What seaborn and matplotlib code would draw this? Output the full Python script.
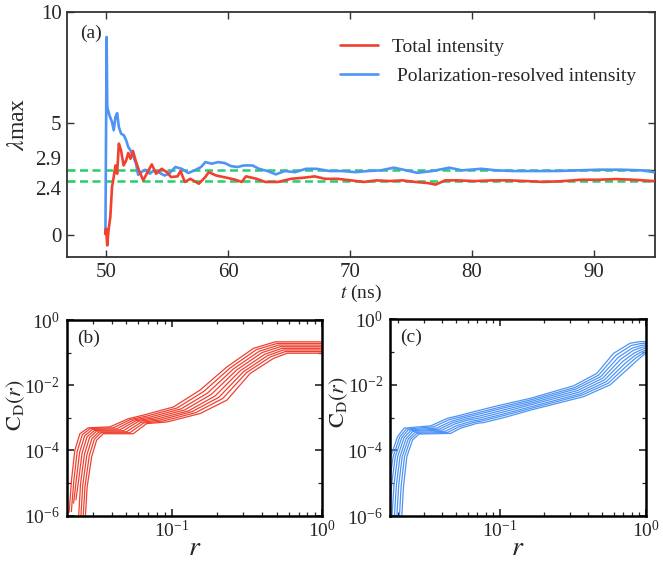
import numpy as np
import pandas as pd
import matplotlib
matplotlib.use("Agg")
import matplotlib.pyplot as plt
import seaborn as sns
from matplotlib import ticker

# ---------------- data: panel (a) ----------------
t_total = [49.92, 50.00, 50.10, 50.20, 50.35, 50.49, 50.63, 50.77, 50.91, 51.05,
           51.23, 51.44, 51.65, 51.82, 52.00, 52.21, 52.42, 52.70, 53.05, 53.40,
           53.75, 54.10, 54.56, 54.98, 55.33, 55.86, 56.10, 56.46, 56.91, 57.61,
           58.14, 58.42, 59.02, 59.89, 60.60, 61.12, 61.47, 62.35, 63.05, 64.10,
           65.16, 66.21, 67.09, 67.96, 69.02, 70.07, 71.12, 72.18, 73.23, 74.28,
           75.33, 76.39, 77.02, 77.79, 78.84, 80.25, 81.65, 83.05, 84.46, 85.86,
           87.26, 89.00, 90.42, 91.82, 93.20, 94.90]
lam_total = [0.04, 0.27, -0.48, 0.19, 0.79, 2.14, 2.59, 3.11, 2.74, 4.09,
             3.79, 3.11, 3.34, 3.67, 3.41, 3.76, 3.34, 2.89, 2.44, 2.81,
             3.16, 2.74, 2.96, 2.81, 2.59, 2.62, 2.86, 2.37, 2.51, 2.29,
             2.59, 2.81, 2.66, 2.56, 2.47, 2.37, 2.62, 2.51, 2.37, 2.37,
             2.51, 2.56, 2.62, 2.51, 2.51, 2.44, 2.37, 2.44, 2.41, 2.44,
             2.37, 2.32, 2.25, 2.44, 2.44, 2.41, 2.44, 2.44, 2.41, 2.37,
             2.40, 2.47, 2.47, 2.50, 2.47, 2.41]

t_pol = [49.95, 50.05, 50.10, 50.28, 50.49, 50.63, 50.77, 50.91, 51.05, 51.23,
         51.47, 51.65, 51.82, 52.00, 52.25, 52.46, 52.63, 52.88, 53.23, 53.58,
         53.93, 54.28, 54.80, 55.16, 55.68, 56.21, 56.74, 57.26, 57.79, 58.14,
         58.67, 59.19, 59.72, 60.25, 60.77, 61.30, 62.00, 62.53, 63.23, 63.93,
         64.63, 65.50, 66.39, 67.26, 68.32, 69.37, 70.42, 71.47, 72.53, 73.58,
         74.63, 75.50, 76.74, 78.14, 79.19, 80.77, 82.00, 83.40, 85.16, 86.90,
         88.67, 90.40, 92.20, 93.90, 94.90]
lam_pol = [0.05, 8.88, 5.73, 5.36, 5.06, 4.69, 5.28, 5.46, 4.84, 4.54,
           4.46, 4.24, 3.94, 3.79, 3.49, 3.19, 2.69, 2.81, 2.92, 2.74,
           2.89, 2.81, 2.66, 2.74, 3.04, 2.96, 2.77, 2.89, 3.04, 3.26,
           3.19, 3.26, 3.22, 3.08, 3.04, 3.11, 3.11, 2.96, 2.86, 2.71,
           2.86, 2.81, 2.96, 2.96, 2.86, 2.86, 2.81, 2.86, 2.89, 3.01,
           2.89, 2.78, 2.86, 3.01, 2.89, 2.96, 2.89, 2.86, 2.86, 2.86,
           2.89, 2.92, 2.92, 2.89, 2.81]

ref_levels = [2.9, 2.4]
a_yticks = [0, 2.4, 2.9, 5, 10]
a_yticklabels = ["0", "2.4", "2.9", "5", "10"]
a_xticks = [50, 60, 70, 80, 90]
legend_labels = ["Total intensity", " Polarization-resolved intensity"]

# log-panel ticks
cd_major_y = [1e-6, 1e-4, 1e-2, 1e0]
cd_minor_y = [1e-5, 1e-3, 1e-1]
cd_major_x = [0.1, 1.0]

# ---------------- data: panel (b), log10 r / log10 C_D ----------------
b_logr = [
    [-1.683, -1.667, -1.645, -1.611, -1.556, -1.411, -1.289, -1.189, -0.989, -0.811, -0.633, -0.456, -0.311, 0.0],
    [-1.668, -1.652, -1.629, -1.595, -1.542, -1.389, -1.272, -1.167, -0.964, -0.786, -0.611, -0.437, -0.300, 0.0],
    [-1.653, -1.637, -1.613, -1.579, -1.528, -1.367, -1.255, -1.145, -0.939, -0.761, -0.589, -0.418, -0.289, 0.0],
    [-1.638, -1.622, -1.597, -1.563, -1.514, -1.345, -1.238, -1.123, -0.914, -0.736, -0.567, -0.399, -0.278, 0.0],
    [-1.623, -1.607, -1.581, -1.547, -1.500, -1.323, -1.221, -1.101, -0.889, -0.711, -0.545, -0.380, -0.267, 0.0],
    [-1.608, -1.592, -1.565, -1.531, -1.486, -1.301, -1.204, -1.079, -0.864, -0.686, -0.523, -0.361, -0.256, 0.0],
    [-1.593, -1.577, -1.549, -1.515, -1.472, -1.279, -1.187, -1.057, -0.839, -0.661, -0.501, -0.342, -0.245, 0.0],
    [-1.578, -1.563, -1.533, -1.500, -1.456, -1.256, -1.167, -1.033, -0.811, -0.633, -0.478, -0.323, -0.233, 0.0],
]
b_logc = [
    [-5.90, -4.92, -4.00, -3.49, -3.31, -3.28, -3.03, -2.92, -2.67, -2.15, -1.44, -0.87, -0.67, -0.67],
    [-5.88, -4.95, -4.03, -3.52, -3.33, -3.31, -3.05, -2.95, -2.70, -2.19, -1.47, -0.91, -0.72, -0.72],
    [-5.62, -4.98, -4.06, -3.55, -3.36, -3.34, -3.07, -2.98, -2.73, -2.24, -1.50, -0.96, -0.77, -0.77],
    [-5.52, -5.01, -4.09, -3.58, -3.39, -3.37, -3.09, -3.01, -2.76, -2.28, -1.53, -1.00, -0.82, -0.82],
    [-6.30, -5.04, -4.12, -3.61, -3.41, -3.40, -3.11, -3.04, -2.79, -2.33, -1.56, -1.05, -0.87, -0.87],
    [-6.30, -5.07, -4.14, -3.64, -3.44, -3.43, -3.14, -3.07, -2.81, -2.37, -1.59, -1.09, -0.92, -0.92],
    [-6.30, -5.10, -4.17, -3.66, -3.46, -3.46, -3.16, -3.10, -2.84, -2.41, -1.61, -1.13, -0.97, -0.97],
    [-6.30, -5.13, -4.20, -3.69, -3.49, -3.49, -3.18, -3.13, -2.87, -2.46, -1.64, -1.18, -1.02, -1.02],
]

# ---------------- data: panel (c), log10 r / log10 C_D ----------------
c_logr = [
    [-1.790, -1.775, -1.749, -1.703, -1.658, -1.475, -1.361, -1.293, -1.180, -1.020, -0.792, -0.497, -0.337, -0.223, -0.109, -0.041, 0.0],
    [-1.774, -1.759, -1.733, -1.688, -1.643, -1.456, -1.348, -1.273, -1.170, -1.010, -0.792, -0.487, -0.324, -0.207, -0.102, -0.038, 0.0],
    [-1.757, -1.743, -1.718, -1.674, -1.629, -1.436, -1.335, -1.254, -1.160, -1.000, -0.792, -0.477, -0.311, -0.190, -0.095, -0.035, 0.0],
    [-1.741, -1.727, -1.702, -1.659, -1.614, -1.417, -1.322, -1.234, -1.150, -0.990, -0.792, -0.467, -0.298, -0.174, -0.088, -0.032, 0.0],
    [-1.725, -1.711, -1.686, -1.644, -1.599, -1.397, -1.309, -1.215, -1.140, -0.980, -0.792, -0.457, -0.285, -0.158, -0.081, -0.029, 0.0],
    [-1.709, -1.695, -1.671, -1.629, -1.584, -1.378, -1.296, -1.195, -1.131, -0.970, -0.792, -0.448, -0.272, -0.142, -0.074, -0.026, 0.0],
    [-1.692, -1.678, -1.655, -1.615, -1.570, -1.359, -1.283, -1.175, -1.121, -0.960, -0.792, -0.438, -0.259, -0.125, -0.067, -0.023, 0.0],
    [-1.676, -1.662, -1.639, -1.600, -1.555, -1.339, -1.270, -1.156, -1.111, -0.950, -0.792, -0.428, -0.246, -0.109, -0.060, -0.020, 0.0],
]
c_logc = [
    [-5.90, -5.00, -4.19, -3.58, -3.32, -3.25, -3.02, -2.95, -2.82, -2.64, -2.41, -2.03, -1.65, -1.04, -0.73, -0.68, -0.68],
    [-5.94, -5.01, -4.19, -3.59, -3.35, -3.28, -3.06, -2.98, -2.87, -2.69, -2.46, -2.08, -1.70, -1.10, -0.80, -0.74, -0.73],
    [-5.99, -5.03, -4.19, -3.61, -3.37, -3.32, -3.11, -3.01, -2.91, -2.73, -2.51, -2.12, -1.75, -1.16, -0.88, -0.80, -0.78],
    [-6.03, -5.04, -4.19, -3.62, -3.40, -3.35, -3.15, -3.04, -2.96, -2.78, -2.56, -2.17, -1.80, -1.22, -0.95, -0.86, -0.83],
    [-6.07, -5.06, -4.19, -3.64, -3.42, -3.38, -3.19, -3.07, -3.01, -2.83, -2.61, -2.22, -1.85, -1.28, -1.03, -0.92, -0.88],
    [-6.12, -5.07, -4.19, -3.65, -3.45, -3.42, -3.24, -3.11, -3.06, -2.88, -2.67, -2.27, -1.90, -1.34, -1.10, -0.98, -0.94],
    [-6.16, -5.08, -4.19, -3.66, -3.48, -3.45, -3.28, -3.14, -3.10, -2.92, -2.72, -2.31, -1.95, -1.39, -1.17, -1.04, -0.99],
    [-6.20, -5.10, -4.19, -3.68, -3.50, -3.48, -3.32, -3.17, -3.15, -2.97, -2.77, -2.36, -2.00, -1.45, -1.25, -1.10, -1.04],
]

# ---------------- style ----------------
RED = "#f0402f"
BLUE = "#4f94f5"
GREEN = "#25cf6c"

sns.set_style("ticks")
plt.rcParams["font.family"] = ["Liberation Serif", "DejaVu Serif"]
plt.rcParams["mathtext.fontset"] = "stix"

W, H = 663, 564
fig = plt.figure(figsize=(W / 100, H / 100), dpi=100)
ax_a = fig.add_axes([67 / W, 1 - 257 / H, 588 / W, 245 / H])
ax_b = fig.add_axes([66.7 / W, 1 - 515.5 / H, 255.3 / W, 195.5 / H])
ax_c = fig.add_axes([390 / W, 1 - 516 / H, 256 / W, 196.7 / H])

# ---------------- panel (a) ----------------
df_tot = pd.DataFrame({"t": t_total, "lam": lam_total})
df_pol = pd.DataFrame({"t": t_pol, "lam": lam_pol})
for lvl in ref_levels:
    ax_a.axhline(lvl, color=GREEN, lw=1.8, dashes=(3.2, 1.8), zorder=1)
sns.lineplot(data=df_pol, x="t", y="lam", ax=ax_a, color=BLUE, lw=1.9,
             estimator=None, sort=False, label=legend_labels[1], zorder=3)
sns.lineplot(data=df_tot, x="t", y="lam", ax=ax_a, color=RED, lw=1.9,
             estimator=None, sort=False, label=legend_labels[0], zorder=4)
ax_a.set_xlim(46.8, 95)
ax_a.set_ylim(-1, 10)
ax_a.set_xticks(a_xticks)
ax_a.set_xticklabels([str(v) for v in a_xticks])
ax_a.set_yticks(a_yticks)
ax_a.set_yticklabels(a_yticklabels)
ax_a.tick_params(direction="in", top=True, right=True, labelsize=15,
                 length=5, width=1.0, color="#333333", pad=4)
for lab in ax_a.get_yticklabels():
    if lab.get_text() == "2.9":
        lab.set_va("bottom")
    elif lab.get_text() == "2.4":
        lab.set_va("top")
for s in ax_a.spines.values():
    s.set_linewidth(1.3)
    s.set_color("#333333")
ax_a.set_xlabel(r"$t$ (ns)", fontsize=14, labelpad=1)
ax_a.set_ylabel(r"$\lambda$max", fontsize=17)
ax_a.yaxis.set_label_coords(-0.083, 0.54)
ax_a.yaxis.label.set_va("center")
ax_a.text(0.022, 0.95, "(a)", transform=ax_a.transAxes, fontsize=14,
          va="top", ha="left")
h, l = ax_a.get_legend_handles_labels()
order = [l.index(legend_labels[0]), l.index(legend_labels[1])]
ax_a.legend([h[i] for i in order], [l[i] for i in order],
            loc="upper left", bbox_to_anchor=(340 / W, 1 - 38 / H),
            bbox_transform=fig.transFigure, frameon=False, fontsize=14,
            handlelength=1.95, handletextpad=0.7, labelspacing=0.6,
            borderpad=0, borderaxespad=0)

# ---------------- panels (b), (c) ----------------
def draw_panel(ax, logr, logc, color, tag, xmin, ylab_xy):
    for lr, lc in zip(logr, logc):
        df = pd.DataFrame({"r": np.power(10.0, lr), "c": np.power(10.0, lc)})
        sns.lineplot(data=df, x="r", y="c", ax=ax, color=color, lw=0.9,
                     estimator=None, sort=False)
    ax.set_xscale("log")
    ax.set_yscale("log")
    ax.set_xlim(xmin, 1)
    ax.set_ylim(1e-6, 1)
    ax.yaxis.set_major_locator(ticker.FixedLocator(cd_major_y))
    ax.yaxis.set_major_formatter(ticker.LogFormatterMathtext(base=10.0))
    ax.yaxis.set_minor_locator(ticker.FixedLocator(cd_minor_y))
    ax.yaxis.set_minor_formatter(ticker.NullFormatter())
    ax.xaxis.set_major_locator(ticker.FixedLocator(cd_major_x))
    ax.xaxis.set_major_formatter(ticker.LogFormatterMathtext(base=10.0))
    ax.xaxis.set_minor_locator(ticker.LogLocator(base=10.0, subs=np.arange(2, 10), numticks=20))
    ax.xaxis.set_minor_formatter(ticker.NullFormatter())
    ax.tick_params(which="both", direction="in", top=True, right=True)
    ax.tick_params(which="major", length=5, width=1.2, labelsize=14)
    ax.tick_params(axis="x", which="major", pad=3)
    ax.tick_params(axis="y", which="major", pad=5)
    ax.tick_params(which="minor", length=3, width=0.9)
    for s in ax.spines.values():
        s.set_linewidth(1.8)
        s.set_color("black")
    ax.set_xlabel(r"$r$", fontsize=20)
    ax.xaxis.set_label_coords(0.5, -0.2)
    ax.xaxis.label.set_va("baseline")
    ax.set_ylabel(r"$\mathrm{C}_\mathrm{D}(r)$", fontsize=16)
    ax.yaxis.set_label_coords(*ylab_xy)
    ax.yaxis.label.set_va("center")
    ax.text(0.04, 0.95, tag, transform=ax.transAxes, fontsize=14,
            va="top", ha="left")

draw_panel(ax_b, b_logr, b_logc, RED, "(b)", 0.02, (-0.2, 0.565))
draw_panel(ax_c, c_logr, c_logc, BLUE, "(c)", 0.0176, (-0.2, 0.58))

fig.savefig("out.png", dpi=100)
